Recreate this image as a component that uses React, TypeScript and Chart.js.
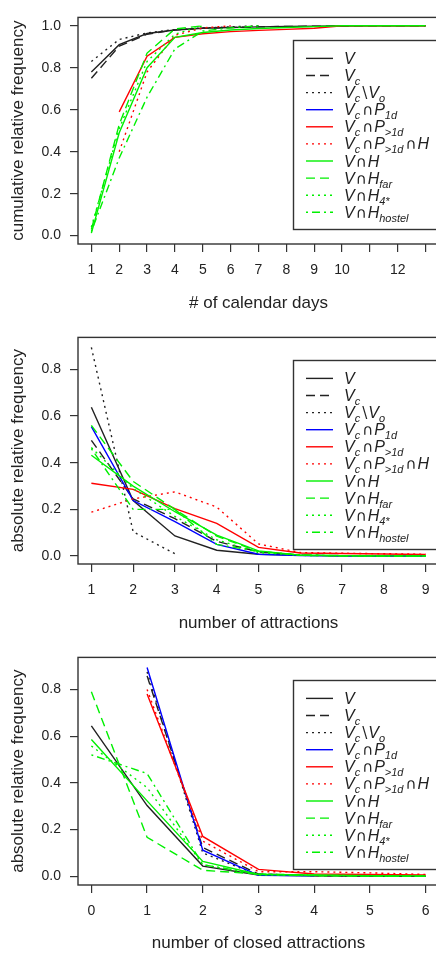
import React, { useEffect, useRef } from "react";
import { Chart, registerables } from "chart.js";

Chart.register(...registerables);

// ---------------- Panel 1: cumulative relative frequency by # of calendar days
const days = [1, 2, 3, 4, 5, 6, 7, 8, 9, 10, 11, 12, 13];
const dayTickLabels = ["1", "2", "3", "4", "5", "6", "7", "8", "9", "10", "", "12", ""];
const cumYTicks = [0, 0.2, 0.4, 0.6, 0.8, 1.0];
const cumV = [0.78, 0.91, 0.963, 0.98, 0.988, 0.992, 0.995, 0.997, 0.998, 0.999, 1, 1, 1];
const cumVc = [0.75, 0.903, 0.96, 0.98, 0.988, 0.992, 0.995, 0.997, 0.998, 0.999, 1, 1, 1];
const cumVcNotVo = [0.83, 0.935, 0.966, 0.982, 0.99, 0.995, 1.0];
const cumVcP1d: (number | null)[] = [];
const cumVcPgt1d = [null, 0.59, 0.855, 0.945, 0.962, 0.972, 0.978, 0.983, 0.988, 1.0, 1.0, 1.0, 1.0];
const cumVcPgt1dH = [null, 0.4, 0.78, 0.955, 0.99, 1.0];
const cumVH = [0.012, 0.49, 0.8, 0.945, 0.968, 0.98, 0.987, 0.992, 0.996, 1, 1, 1, 1];
const cumVHfar = [0.03, 0.53, 0.87, 0.985, 1.0];
const cumVH4 = [0.04, 0.51, 0.83, 0.96, 1.0];
const cumVHhostel = [0.02, 0.37, 0.66, 0.89, 0.975, 0.99, 1.0];

// ---------------- Panel 2: absolute relative frequency by number of attractions
const attractions = [1, 2, 3, 4, 5, 6, 7, 8, 9];
const attrTickLabels = ["1", "2", "3", "4", "5", "6", "7", "8", "9"];
const absYTicks = [0, 0.2, 0.4, 0.6, 0.8];
const attV = [0.638, 0.238, 0.086, 0.025, 0.008, 0.003, 0.001, 0.001, 0.001];
const attVc = [0.496, 0.245, 0.16, 0.063, 0.018, 0.004, 0.002, 0.001, 0.001];
const attVcNotVo = [0.894, 0.104, 0.01];
const attVcP1d = [0.555, 0.238, 0.148, 0.05, 0.008, 0.002, 0.001, 0.001, 0.001];
const attVcPgt1d = [0.312, 0.286, 0.203, 0.14, 0.037, 0.013, 0.011, 0.009, 0.007];
const attVcPgt1dH = [0.188, 0.245, 0.275, 0.21, 0.052, 0.015, 0.012, 0.01, 0.008];
const attVH = [0.432, 0.3, 0.19, 0.09, 0.022, 0.004, 0.002, 0.001, 0.001];
const attVHfar = [0.56, 0.32, 0.2, 0.085, 0.02, 0.003, 0.001, 0.001, 0];
const attVH4 = [0.465, 0.29, 0.17, 0.07, 0.015, 0.003, 0.001, 0, 0];
const attVHhostel = [0.46, 0.2, 0.2, 0.05, 0.02, 0.005, 0.001, 0, 0];

// ---------------- Panel 3: absolute relative frequency by number of closed attractions
const closed = [0, 1, 2, 3, 4, 5, 6];
const closedTickLabels = ["0", "1", "2", "3", "4", "5", "6"];
const clsV = [0.644, 0.303, 0.044, 0.006, 0.002, 0.001, 0.001];
const clsVc = [null, 0.858, 0.123, 0.01, 0.003, 0.001, 0];
const clsVcNotVo = [null, 0.875, 0.1, 0.005];
const clsVcP1d = [null, 0.894, 0.112, 0.004, 0.002];
const clsVcPgt1d = [null, 0.78, 0.171, 0.03, 0.01, 0.008, 0.006];
const clsVcPgt1dH = [null, 0.8, 0.151, 0.02, 0.02, 0.015, 0.008];
const clsVH = [0.586, 0.323, 0.064, 0.008, 0.006, 0.003, 0.002];
const clsVHfar = [0.79, 0.167, 0.026, 0.01, 0.003, 0.001, 0];
const clsVH4 = [0.558, 0.38, 0.05, 0.006, 0.003, 0.001, 0];
const clsVHhostel = [0.52, 0.44, 0.05, 0.01, 0.005, 0.002, 0];

// ---------------- Legend labels (math-style parts: m = italic main, s = subscript, o = operator)
type Part = [string, "m" | "s" | "o"];
const legendLabels: Part[][] = [
  [["V", "m"]],
  [["V", "m"], ["c", "s"]],
  [["V", "m"], ["c", "s"], ["\\", "o"], ["V", "m"], ["o", "s"]],
  [["V", "m"], ["c", "s"], ["∩", "o"], ["P", "m"], ["1d", "s"]],
  [["V", "m"], ["c", "s"], ["∩", "o"], ["P", "m"], [">1d", "s"]],
  [["V", "m"], ["c", "s"], ["∩", "o"], ["P", "m"], [">1d", "s"], ["∩", "o"], ["H", "m"]],
  [["V", "m"], ["∩", "o"], ["H", "m"]],
  [["V", "m"], ["∩", "o"], ["H", "m"], ["far", "s"]],
  [["V", "m"], ["∩", "o"], ["H", "m"], ["4*", "s"]],
  [["V", "m"], ["∩", "o"], ["H", "m"], ["hostel", "s"]],
];

// ---------------- Styles
const INK = "#222";
const FRAME = "#333";
const GREEN = "#00f000";
const FONT = "'Liberation Sans', Arial, Helvetica, sans-serif";
const DASH = [9, 5];
const DOT = [2, 4];
const DOTDASH = [2, 4, 8, 4];
const seriesStyles = [
  { color: INK, dash: [] as number[] },
  { color: INK, dash: DASH },
  { color: INK, dash: DOT },
  { color: "#0000ff", dash: [] as number[] },
  { color: "#ff0000", dash: [] as number[] },
  { color: "#ff0000", dash: DOT },
  { color: GREEN, dash: [] as number[] },
  { color: GREEN, dash: DASH },
  { color: GREEN, dash: DOT },
  { color: GREEN, dash: DOTDASH },
];

type PanelDef = {
  top: number;
  padTop: number;
  xAxisH: number;
  xs: number[];
  xLabels: string[];
  xMin: number;
  xMax: number;
  yTicks: number[];
  yMin: number;
  yMax: number;
  xTitle: string;
  yTitle: string;
  series: (number | null)[][];
};

const panels: PanelDef[] = [
  {
    top: 0, padTop: 9, xAxisH: 76,
    xs: days, xLabels: dayTickLabels, xMin: 0.52, xMax: 13.48,
    yTicks: cumYTicks, yMin: -0.04, yMax: 1.04,
    xTitle: "# of calendar days", yTitle: "cumulative relative frequency",
    series: [cumV, cumVc, cumVcNotVo, cumVcP1d, cumVcPgt1d, cumVcPgt1dH, cumVH, cumVHfar, cumVH4, cumVHhostel],
  },
  {
    top: 320, padTop: 10, xAxisH: 76,
    xs: attractions, xLabels: attrTickLabels, xMin: 0.68, xMax: 9.32,
    yTicks: absYTicks, yMin: -0.034, yMax: 0.937,
    xTitle: "number of attractions", yTitle: "absolute relative frequency",
    series: [attV, attVc, attVcNotVo, attVcP1d, attVcPgt1d, attVcPgt1dH, attVH, attVHfar, attVH4, attVHhostel],
  },
  {
    top: 640, padTop: 10, xAxisH: 75,
    xs: closed, xLabels: closedTickLabels, xMin: -0.24, xMax: 6.24,
    yTicks: absYTicks, yMin: -0.037, yMax: 0.937,
    xTitle: "number of closed attractions", yTitle: "absolute relative frequency",
    series: [clsV, clsVc, clsVcNotVo, clsVcP1d, clsVcPgt1d, clsVcPgt1dH, clsVH, clsVHfar, clsVH4, clsVHhostel],
  },
];

function drawLegend(ctx: CanvasRenderingContext2D, a: { top: number }) {
  const lx = 293.5;
  const ly = Math.round(a.top + 23) + 0.5;
  const lh = 189;
  ctx.save();
  ctx.fillStyle = "#fff";
  ctx.fillRect(lx, ly, 220, lh);
  ctx.strokeStyle = FRAME;
  ctx.lineWidth = 1.4;
  ctx.setLineDash([]);
  ctx.strokeRect(lx, ly, 220, lh);
  ctx.textBaseline = "alphabetic";
  ctx.textAlign = "left";
  legendLabels.forEach((parts, i) => {
    const y = a.top + 41 + i * 17.1;
    const st = seriesStyles[i];
    ctx.beginPath();
    ctx.setLineDash(st.dash);
    ctx.strokeStyle = st.color;
    ctx.lineWidth = 1.4;
    ctx.moveTo(306, y);
    ctx.lineTo(333, y);
    ctx.stroke();
    ctx.setLineDash([]);
    let x = 344;
    const base = y + 5.5;
    ctx.fillStyle = INK;
    parts.forEach(([t, kind]) => {
      if (kind === "m") {
        ctx.font = `italic 16px ${FONT}`;
        ctx.fillText(t, x, base);
        x += ctx.measureText(t).width;
      } else if (kind === "s") {
        ctx.font = `italic 11px ${FONT}`;
        ctx.fillText(t, x, base + 4);
        x += ctx.measureText(t).width + 1;
      } else {
        ctx.font = `15px 'DejaVu Sans', ${FONT}`;
        x += 1;
        ctx.fillText(t, x, base);
        x += ctx.measureText(t).width + 1;
      }
    });
  });
  ctx.restore();
}

const framePlugin = {
  id: "rframe",
  afterDatasetsDraw(chart: any) {
    const { ctx, chartArea: a } = chart;
    ctx.save();
    ctx.strokeStyle = FRAME;
    ctx.lineWidth = 1.4;
    ctx.setLineDash([]);
    ctx.strokeRect(a.left, a.top, a.right - a.left, a.bottom - a.top);
    ctx.restore();
    drawLegend(ctx, a);
  },
};

function makeConfig(p: PanelDef): any {
  return {
    type: "line",
    data: {
      datasets: p.series.map((vals, i) => ({
        label: legendLabels[i].map((q) => q[0]).join(""),
        data: p.xs
          .map((x, j) => ({ x, y: vals[j] === undefined ? null : vals[j] }))
          .filter((d) => d.y !== null),
        borderColor: seriesStyles[i].color,
        borderDash: seriesStyles[i].dash,
        borderWidth: 1.4,
        pointRadius: 0,
        fill: false,
        tension: 0,
        order: -i,
      })),
    },
    options: {
      animation: false,
      responsive: false,
      events: [],
      layout: { padding: { top: p.padTop, right: 11, left: 0, bottom: 0 } },
      plugins: { legend: { display: false }, tooltip: { enabled: false } },
      scales: {
        x: {
          type: "linear",
          min: p.xMin,
          max: p.xMax,
          afterBuildTicks: (s: any) => {
            s.ticks = p.xs.map((v) => ({ value: v }));
          },
          afterFit: (s: any) => {
            s.height = p.xAxisH;
          },
          ticks: {
            autoSkip: false,
            maxRotation: 0,
            minRotation: 0,
            padding: 10,
            color: INK,
            font: { family: FONT, size: 14 },
            callback: (_v: any, i: number) => p.xLabels[i],
          },
          grid: { display: true, drawOnChartArea: false, drawTicks: true, tickLength: 8, color: FRAME, lineWidth: 1.2 },
          border: { display: false },
          title: {
            display: true,
            text: p.xTitle,
            color: INK,
            font: { family: FONT, size: 17 },
            padding: { top: 0, bottom: 6 },
          },
        },
        y: {
          type: "linear",
          min: p.yMin,
          max: p.yMax,
          afterBuildTicks: (s: any) => {
            s.ticks = p.yTicks.map((v) => ({ value: v }));
          },
          afterFit: (s: any) => {
            s.width = 78;
          },
          ticks: {
            autoSkip: false,
            padding: 9,
            color: INK,
            font: { family: FONT, size: 14 },
            callback: (v: any) => Number(v).toFixed(1),
          },
          grid: { display: true, drawOnChartArea: false, drawTicks: true, tickLength: 8, color: FRAME, lineWidth: 1.2 },
          border: { display: false },
          title: {
            display: true,
            text: p.yTitle,
            color: INK,
            font: { family: FONT, size: 17 },
            padding: { top: 8, bottom: 0 },
          },
        },
      },
    },
    plugins: [framePlugin],
  };
}

function Panel({ def }: { def: PanelDef }) {
  const ref = useRef<HTMLCanvasElement>(null);
  useEffect(() => {
    const chart = new Chart(ref.current as HTMLCanvasElement, makeConfig(def));
    return () => chart.destroy();
  }, [def]);
  return (
    <canvas
      ref={ref}
      width={450}
      height={320}
      style={{ position: "absolute", left: 0, top: def.top, width: 450, height: 320 }}
    />
  );
}

export default function App() {
  return (
    <div
      style={{
        position: "fixed",
        left: 0,
        top: 0,
        width: 436,
        height: 958,
        overflow: "hidden",
        background: "#fff",
      }}
    >
      {panels.map((p, i) => (
        <Panel key={i} def={p} />
      ))}
    </div>
  );
}
